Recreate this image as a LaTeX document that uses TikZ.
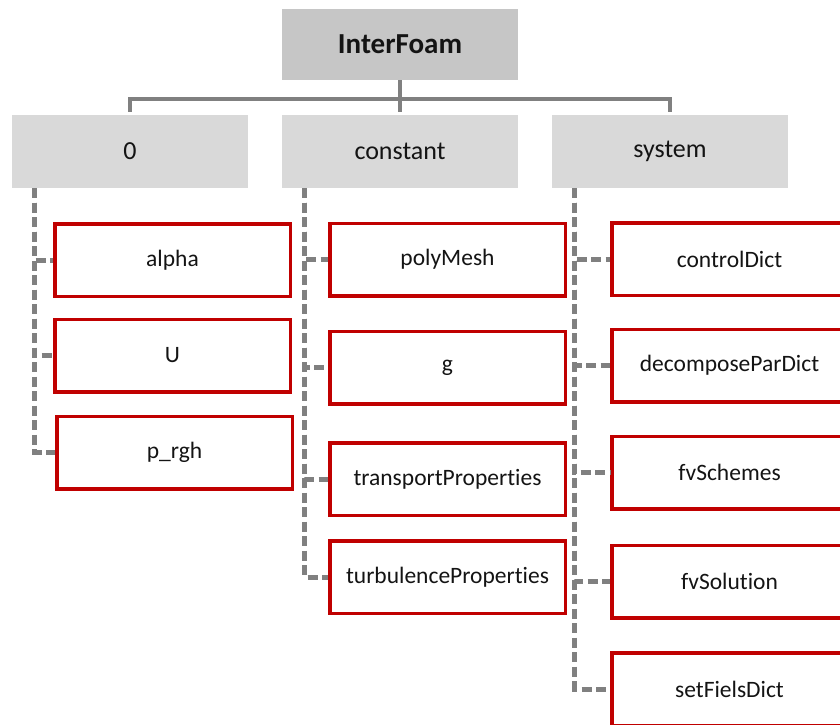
\documentclass[tikz,border=0pt]{standalone}
\usepackage{fontspec}
\setmainfont{Carlito}[Ligatures={NoCommon,NoContextual}]
\definecolor{rootgray}{HTML}{C6C6C6}
\definecolor{dirgray}{HTML}{D9D9D9}
\definecolor{filered}{HTML}{C00000}
\definecolor{linegray}{HTML}{808080}
\definecolor{txt}{HTML}{141414}
\begin{document}
\begin{tikzpicture}[x=1pt,y=-1pt,
  rootbox/.style={fill=rootgray, minimum width=236pt, minimum height=71pt, inner sep=0pt,
    text=txt, font=\fontsize{29}{32}\selectfont\bfseries},
  dirbox/.style={fill=dirgray, minimum width=236pt, minimum height=73pt, inner sep=0pt,
    text=txt, font=\fontsize{26}{30}\selectfont},
  filebox/.style={draw=filered, line width=3.5pt, fill=white, minimum width=235.5pt,
    minimum height=72.5pt, inner sep=0pt, text=txt, font=\fontsize{23.5}{28}\selectfont},
  treeline/.style={draw=linegray, line width=4.5pt},
  branchline/.style={draw=linegray, line width=5pt, dash pattern=on 10pt off 4.5pt},
]
\useasboundingbox (0,0) rectangle (840,724);
\clip (0,0) rectangle (840,724);

% case root and its three directories
\node[rootbox] (root) at (400,44.5) {InterFoam};
\node[dirbox] (zero) at (130,151.5) {0};
\node[dirbox] (const) at (400,151.5) {constant};
\node[dirbox] (sys) at (670,151.5) {system};

\draw[treeline] (root.south) -- ++(0,19) coordinate (hub);
\draw[treeline] (hub) -| ([yshift=3pt]zero.north);
\draw[treeline] (hub) -| ([yshift=3pt]sys.north);
\draw[treeline] (hub) -- ([yshift=3pt]const.north);

% files in 0
\node[filebox] (alpha) at (172.5,260) {alpha};
\node[filebox] (U) at (172.5,355.5) {U};
\node[filebox] (prgh) at (174.5,452.5) {p\_rgh};

% files in constant
\node[filebox] (poly) at (447.5,259.5) {polyMesh};
\node[filebox] (g) at (447.5,367.5) {g};
\node[filebox] (trans) at (447.5,479) {transportProperties};
\node[filebox] (turb) at (447.5,577) {turbulenceProperties};

% files in system
\node[filebox] (ctrl) at (729.5,259) {controlDict};
\node[filebox] (decomp) at (729.5,365.5) {decomposeParDict};
\node[filebox] (schemes) at (729.5,472.5) {fvSchemes};
\node[filebox] (solution) at (729.5,581.5) {fvSolution};
\node[filebox] (setf) at (729.5,689) {setFielsDict};

% dashed branches from each directory to its files
\foreach \dir/\file in {zero/alpha, zero/U, zero/prgh,
                        const/poly, const/g, const/trans, const/turb,
                        sys/ctrl, sys/decomp, sys/schemes, sys/solution, sys/setf}
  \draw[branchline] ([xshift=23pt]\dir.south west) |- (\file.west);
\end{tikzpicture}
\end{document}
